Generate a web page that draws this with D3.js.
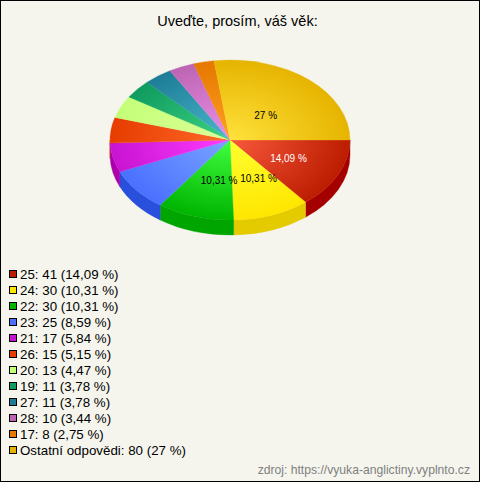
<!DOCTYPE html>
<html>
<head>
<meta charset="utf-8">
<script src="https://cdn.jsdelivr.net/npm/d3@7"></script>
<style>
html, body { margin: 0; padding: 0; background: #f5f5ed; }
svg { display: block; }
text { font-family: "Liberation Sans", Arial, sans-serif; }
</style>
</head>
<body>
<div id="chart"></div>
<script>
var ages = ["25", "24", "22", "23", "21", "26", "20", "19", "27", "28", "17", "Ostatní odpovědi"];
var counts = [41, 30, 30, 25, 17, 15, 13, 11, 11, 10, 8, 80];
var percents = ["14,09", "10,31", "10,31", "8,59", "5,84", "5,15", "4,47", "3,78", "3,78", "3,44", "2,75", "27"];

var edge_colors = ["#bc1c00", "#ffe600", "#00b400", "#4a70ff", "#c814d2", "#e63c00", "#c4ff78", "#0f9b5f", "#1e7d96", "#be64b4", "#e67800", "#e6b400"];
var center_colors = ["#f8583c", "#ffff30", "#40ff40", "#7aa4ff", "#ff3cff", "#ff6a2a", "#dcff98", "#3cd282", "#48b8cc", "#e890e8", "#ffa020", "#ffe23c"];
var side_colors = ["#a50000", "#e3cb00", "#00a500", "#2850dc", "#aa00aa", "#c83200", "#a0dc60", "#0a8250", "#146478", "#a04f98", "#c86400", "#c89a00"];

// magic numbers
var width = 480, height = 482,
	cx = 230, cy = 140,
	radius_x = 120, radius_y = 80,
	depth = 15;

var svg = d3.select("#chart").append("svg")
		.attr("width", width)
		.attr("height", height);

var defs = svg.append("defs");

svg.append("rect")
		.attr("x", 0.5)
		.attr("y", 0.5)
		.attr("width", width - 1)
		.attr("height", height - 1)
		.attr("fill", "#f5f5ed")
		.style("stroke", "#000");

svg.append("text")
		.attr("x", 237.5)
		.attr("y", 26)
		.attr("text-anchor", "middle")
		.style("font-size", "14.5px")
		.style("fill", "#000")
		.text("Uveďte, prosím, váš věk:");

// the slices follow the printed percents, not the counts (the last one is rounded to 27)
var pie = d3.pie()
		.sort(null)
		.value(function(d) { return +d.replace(",", "."); })
		.startAngle(Math.PI / 2)
		.endAngle(Math.PI * 2.5);

var slices = pie(percents);

// d3 angle 0 is 12 o'clock
function ex(a) { return radius_x * Math.sin(a); }
function ey(a) { return -radius_y * Math.cos(a); }

// side wall of the pie, only the part on the front half
var front = [Math.PI / 2, Math.PI * 1.5];
var pie3d = svg.append("g").attr("transform", "translate(" + cx + "," + cy + ")");

slices.forEach(function(d, i) {
	var a0 = Math.max(d.startAngle, front[0]),
		a1 = Math.min(d.endAngle, front[1]);
	if (a1 <= a0) return;
	var path = "M" + ex(a0) + "," + ey(a0) +
		"A" + radius_x + "," + radius_y + " 0 0 1 " + ex(a1) + "," + ey(a1) +
		"L" + ex(a1) + "," + (ey(a1) + depth) +
		"A" + radius_x + "," + radius_y + " 0 0 0 " + ex(a0) + "," + (ey(a0) + depth) + "Z";
	pie3d.append("path")
			.attr("d", path)
			.attr("fill", side_colors[i])
			.attr("stroke", side_colors[i])
			.attr("stroke-width", 0.4);
});

// top face is a normal d3 arc squashed vertically
var arc = d3.arc().innerRadius(0).outerRadius(radius_x);

var top_face = pie3d.append("g")
		.attr("transform", "scale(1," + (radius_y / radius_x) + ")");

slices.forEach(function(d, i) {
	var grad = defs.append("radialGradient")
			.attr("id", "slice" + i)
			.attr("gradientUnits", "userSpaceOnUse")
			.attr("cx", 0).attr("cy", 0)
			.attr("r", radius_x);
	grad.append("stop").attr("offset", "0%").attr("stop-color", center_colors[i]);
	grad.append("stop").attr("offset", "100%").attr("stop-color", edge_colors[i]);

	top_face.append("path")
			.attr("d", arc(d))
			.attr("fill", "url(#slice" + i + ")")
			.attr("stroke", "url(#slice" + i + ")")
			.attr("stroke-width", 0.4);
});

// percent labels, only the big slices get one
var label_arc = d3.arc().innerRadius(0).outerRadius(radius_x * 1.08);
var label_nudge = {0: [0, -1], 1: [6, -2], 2: [8, -1], 11: [-7, 8]};

slices.forEach(function(d, i) {
	if (d.value < 10) return;
	var c = label_arc.centroid(d);
	pie3d.append("text")
			.attr("x", c[0] + label_nudge[i][0])
			.attr("y", c[1] * radius_y / radius_x + label_nudge[i][1] + 4)
			.attr("text-anchor", "middle")
			.style("font-size", "10px")
			.style("fill", i == 0 ? "#fff" : "#000")
			.text(percents[i] + " %");
});

// legend
var yLegend = d3.scalePoint()
		.domain(d3.range(ages.length))
		.range([274, 450]);

var legend = svg.append("g").selectAll("g")
		.data(ages)
		.enter().append("g")
		.attr("transform", function(d, i) { return "translate(0," + yLegend(i) + ")"; });

legend.append("rect")
		.attr("x", 9.5)
		.attr("y", -3.5)
		.attr("width", 7)
		.attr("height", 7)
		.attr("fill", function(d, i) { return edge_colors[i]; })
		.style("stroke", "#000");

legend.append("text")
		.attr("x", 20)
		.attr("y", 5)
		.style("font-size", "13.33px")
		.style("fill", "#000")
		.text(function(d, i) { return d + ": " + counts[i] + " (" + percents[i] + " %)"; });

svg.append("text")
		.attr("x", 470)
		.attr("y", 474)
		.attr("text-anchor", "end")
		.style("font-size", "12.15px")
		.style("fill", "#808080")
		.text("zdroj: https://vyuka-anglictiny.vyplnto.cz");
</script>
</body>
</html>
